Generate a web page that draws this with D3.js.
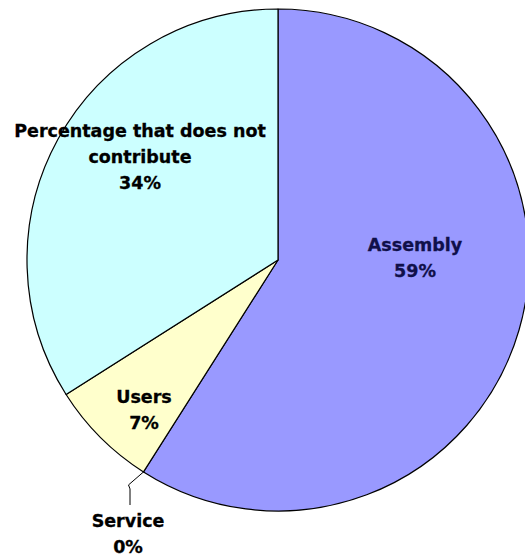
<!DOCTYPE html>
<html>
<head>
<meta charset="utf-8">
<script src="https://cdn.jsdelivr.net/npm/d3@7"></script>
<style>
  html, body { margin: 0; padding: 0; background: #ffffff; }
  svg { display: block; }
  text { font-family: "DejaVu Sans", Verdana, sans-serif; font-weight: bold; font-size: 17.5px; }
</style>
</head>
<body>
<div id="chart"></div>
<script>
// ---- data ----
const categories = ["Assembly", "Service", "Users", "Percentage that does not contribute"];
const values = [59, 0, 7, 34];
const percentLabels = ["59%", "0%", "7%", "34%"];
const labelLines = [["Assembly"], ["Service"], ["Users"], ["Percentage that does not", "contribute"]];

// ---- styling / layout (not data) ----
const colors = ["#9999ff", "#ffffff", "#ffffcc", "#ccffff"];
const textColors = ["#10104a", "#000000", "#000000", "#000000"];
const W = 525, H = 558;
const cx = 278, cy = 260, R = 251;
// label centre offsets relative to pie centre (first line baseline)
const labelOffsets = [[137, -9], [-150, 267], [-134, 143], [-138, -123]];
const lineGap = 26;

const svg = d3.select("#chart").append("svg").attr("width", W).attr("height", H);
const g = svg.append("g").attr("transform", `translate(${cx},${cy})`);

const data = categories.map((c, i) => ({ name: c, value: values[i], i }));
const pie = d3.pie().value(d => d.value).sort(null).startAngle(0).endAngle(2 * Math.PI);
const arcs = pie(data);
const arc = d3.arc().innerRadius(0).outerRadius(R);

g.selectAll("path.slice")
  .data(arcs.filter(a => a.data.value > 0))
  .join("path")
  .attr("class", "slice")
  .attr("d", arc)
  .attr("fill", d => colors[d.data.i])
  .attr("stroke", "#000")
  .attr("stroke-width", 1.2)
  .attr("stroke-linejoin", "round");

// leader line for the zero-size slice (Service)
const svc = arcs[1];
const pOn = d3.arc().innerRadius(R).outerRadius(R).centroid(svc);
const elbow = [pOn[0] - 15, pOn[1] + 13];
const lblOff = labelOffsets[1];
const endPt = [lblOff[0] + 2, lblOff[1] - 22];
g.append("polyline")
  .attr("points", [pOn, elbow, [endPt[0], elbow[1] + 4], endPt].map(p => p.join(",")).join(" "))
  .attr("fill", "none")
  .attr("stroke", "#000")
  .attr("stroke-width", 1);

// labels
arcs.forEach((a) => {
  const i = a.data.i;
  const [dx, dy] = labelOffsets[i];
  const lines = labelLines[i].concat([percentLabels[i]]);
  const t = g.append("text")
    .attr("text-anchor", "middle")
    .attr("fill", textColors[i])
    .attr("stroke", textColors[i])
    .attr("stroke-width", 0.3);
  lines.forEach((ln, j) => {
    t.append("tspan").attr("x", dx).attr("y", dy + j * lineGap).text(ln);
  });
});
</script>
</body>
</html>
